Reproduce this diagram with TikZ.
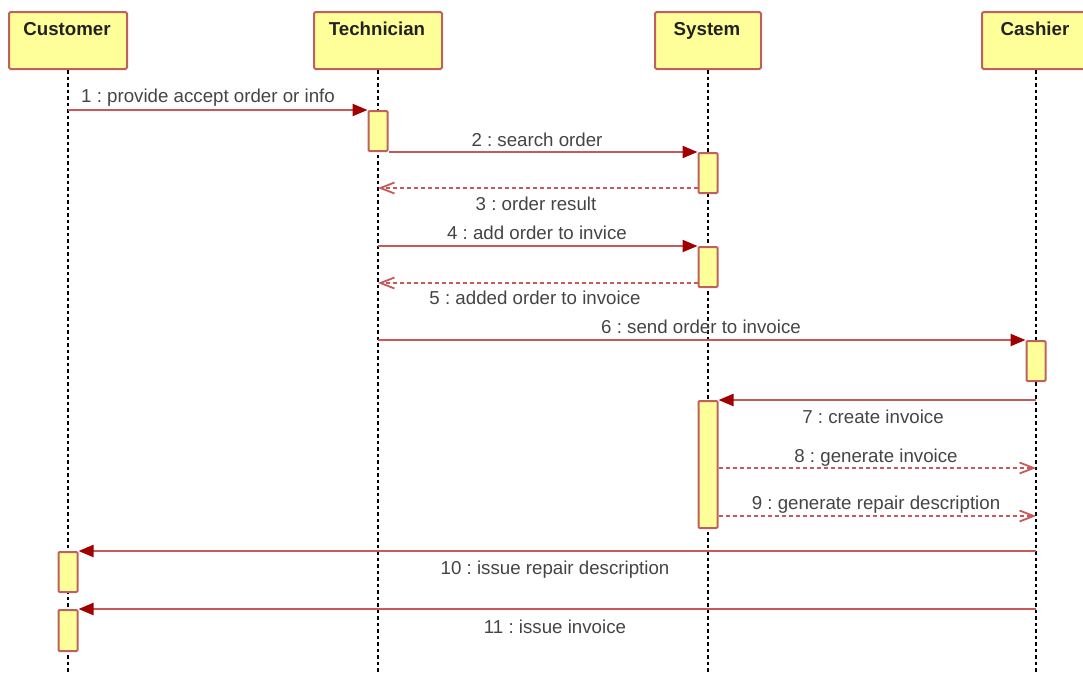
\documentclass[tikz,border=0pt]{standalone}
\usepackage{fontspec}
\setmainfont{Liberation Sans}
\usetikzlibrary{arrows.meta}
\definecolor{boxfill}{HTML}{FFFF99}
\definecolor{boxline}{HTML}{C0605C}
\definecolor{msgline}{HTML}{C8585A}
\definecolor{tipred}{HTML}{A00000}
\definecolor{headtxt}{HTML}{222222}
\definecolor{lbltxt}{HTML}{444444}
\frenchspacing
\begin{document}
\begin{tikzpicture}[x=1pt,y=-1pt,
  font=\fontsize{18.7}{22}\selectfont,
  headbox/.style={draw=boxline, fill=boxfill, line width=2pt, rounded corners=1.5pt,
    minimum width=#1, minimum height=57pt, inner sep=0pt, anchor=north west},
  headtext/.style={font=\fontsize{18.7}{22}\selectfont\bfseries, text=headtxt, anchor=base, inner sep=0pt},
  actbox/.style={draw=boxline, fill=boxfill, line width=2pt, rounded corners=1pt,
    minimum width=19pt, minimum height=#1, inner sep=0pt, anchor=north},
  lifeline/.style={draw=black, line width=1.5pt, dash pattern=on 3.5pt off 3pt},
  msg/.style={draw=msgline, line width=2.2pt, -{Triangle[length=15pt,width=12pt,color=tipred]}},
  reply/.style={draw=msgline, line width=2.2pt, dash pattern=on 4pt off 3pt,
    -{Straight Barb[length=14pt,width=11pt,color=msgline,line width=1.8pt]}},
  lbl/.style={text=lbltxt, inner sep=0pt, anchor=base}
]
\useasboundingbox (0,0) rectangle (1083,673);
% lifeline heads
\node[headbox=118pt] (cus) at (8,11) {};
\node[headbox=128pt] (tec) at (313,11) {};
\node[headbox=106pt] (sys) at (654,11) {};
\node[headbox=108pt] (cas) at (981,11) {};
\node[headtext] (cusT) at (67,35.5) {Customer};
\node[headtext] (tecT) at (377,35.5) {Technician};
\node[headtext] (sysT) at (707,35.5) {System};
\node[headtext] (casT) at (1035,35.5) {Cashier};
% lifeline ends
\coordinate (cusE) at (cus.south |- 0,673);
\coordinate (tecE) at (tec.south |- 0,673);
\coordinate (sysE) at (sys.south |- 0,673);
\coordinate (casE) at (cas.south |- 0,673);
\draw[lifeline] (cus.south) -- (cusE);
\draw[lifeline] (tec.south) -- (tecE);
\draw[lifeline] (sys.south) -- (sysE);
\draw[lifeline] (cas.south) -- (casE);
% activations
\node[actbox=40pt] (t1) at (tec.south |- 0,110) {};
\node[actbox=40pt] (s1) at (sys.south |- 0,152) {};
\node[actbox=40pt] (s2) at (sys.south |- 0,246) {};
\node[actbox=40pt] (c1) at (cas.south |- 0,340) {};
\node[actbox=127pt] (s3) at (sys.south |- 0,400) {};
\node[actbox=40pt] (u1) at (cus.south |- 0,551) {};
\node[actbox=41pt] (u2) at (cus.south |- 0,609) {};
% messages
\draw[msg] (cus.south |- t1.north) -- (t1.north west);
\node[lbl] (l1) at (208,102.5) {1 : provide accept order or info};
\draw[msg] (t1.east |- s1.north) -- (s1.north west);
\node[lbl] (l2) at (537,146.5) {2 : search order};
\coordinate (m3) at ([yshift=6pt]s1.south west);
\draw[reply] (m3) -- (tec.south |- m3);
\node[lbl] (l3) at (536,210.5) {3 : order result};
\draw[msg] (tec.south |- s2.north) -- (s2.north west);
\node[lbl] (l4) at (537,239.5) {4 : add order to invice};
\coordinate (m5) at ([yshift=5pt]s2.south west);
\draw[reply] (m5) -- (tec.south |- m5);
\node[lbl] (l5) at (535,304.5) {5 : added order to invoice};
\draw[msg] (tec.south |- c1.north) -- (c1.north west);
\node[lbl] (l6) at (701,333.5) {6 : send order to invoice};
\draw[msg] (cas.south |- s3.north) -- (s3.north east);
\node[lbl] (l7) at (873,423.5) {7 : create invoice};
\coordinate (m8) at ([yshift=-68pt]s3.north east);
\draw[reply] (m8) -- (cas.south |- m8);
\node[lbl] (l8) at (876,462.5) {8 : generate invoice};
\coordinate (m9) at ([yshift=-116pt]s3.north east);
\draw[reply] (m9) -- (cas.south |- m9);
\node[lbl] (l9) at (876,509.5) {9 : generate repair description};
\draw[msg] (cas.south |- u1.north) -- (u1.north east);
\node[lbl] (l10) at (555,574.5) {10 : issue repair description};
\draw[msg] (cas.south |- u2.north) -- (u2.north east);
\node[lbl] (l11) at (555,633.5) {11 : issue invoice};
\end{tikzpicture}
\end{document}
